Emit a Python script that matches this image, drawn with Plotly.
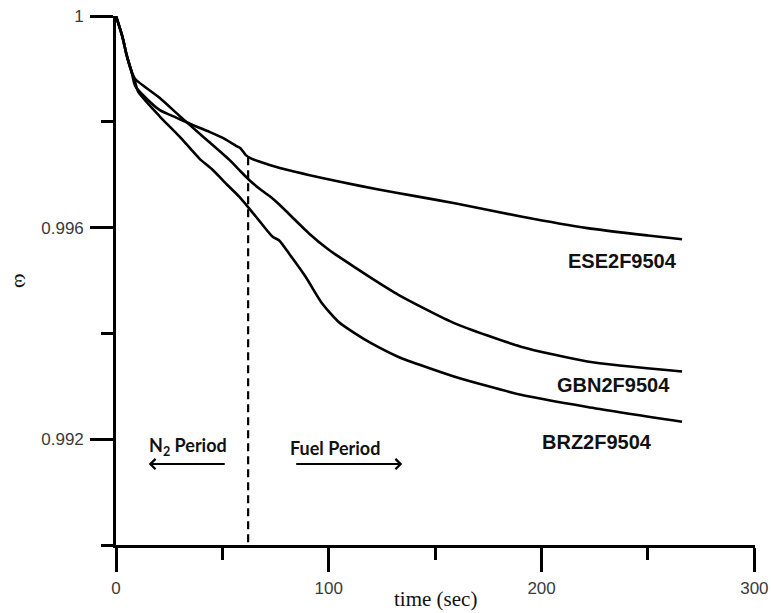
import plotly.graph_objects as go

# ---- data ----
ese_t = [0, 3, 5, 7.3, 9, 14.3, 20.6, 28.3, 36, 43.9, 50, 57.1, 58.5, 61, 63.4, 67.3, 76.6,
         90, 104.7, 123.4, 140, 159.2, 190.3, 221.5, 250, 266]
ese_v = [1.0, 0.99961, 0.99926, 0.99895, 0.99868, 0.99844, 0.99822, 0.99808, 0.99794, 0.99781,
         0.99770, 0.99753, 0.99750, 0.99737, 0.99731, 0.99725, 0.99713, 0.99700, 0.99687,
         0.99672, 0.99660, 0.99646, 0.99621, 0.99599, 0.99585, 0.99578]

gbn_t = [0, 3, 5, 7.3, 9, 20.6, 29.9, 40, 53.3, 57.9, 62.6, 67.3, 72, 76.6, 90.7, 100,
         104.7, 120.2, 132.7, 159.2, 190.3, 221.5, 266]
gbn_v = [1.0, 0.99961, 0.99926, 0.99895, 0.99881, 0.99845, 0.99811, 0.99775, 0.99728, 0.99709,
         0.99690, 0.99674, 0.99660, 0.99644, 0.99589, 0.99558, 0.99545, 0.99504, 0.99473,
         0.99419, 0.99375, 0.99347, 0.99328]

brz_t = [0, 3, 5, 7.3, 9, 10.4, 20.6, 29.9, 39.3, 45.5, 52, 58, 65.7, 73.5, 76.6, 81.3,
         89.1, 96.8, 104.5, 112.3, 120.1, 132.5, 159.2, 190.3, 221.5, 266]
brz_v = [1.0, 0.99961, 0.99926, 0.99895, 0.99875, 0.99857, 0.99810, 0.99772, 0.99730, 0.99709,
         0.99682, 0.99658, 0.99621, 0.99583, 0.99576, 0.99551, 0.99507, 0.99457, 0.99422,
         0.99400, 0.99381, 0.99356, 0.99318, 0.99284, 0.99261, 0.99233]

series_names = ["ESE2F9504", "GBN2F9504", "BRZ2F9504"]
label_t = [238, 234, 226]
label_v = [0.99537, 0.99302, 0.99195]

switch_t = 62.1
switch_top = 0.99733

x_major = [0, 100, 200, 300]
x_minor = [50, 150, 250]
y_major = [1.0, 0.996, 0.992]
y_major_text = ["1", "0.996", "0.992"]
y_minor = [0.998, 0.994, 0.990]

fig = go.Figure()
for t, v in [(ese_t, ese_v), (gbn_t, gbn_v), (brz_t, brz_v)]:
    fig.add_trace(go.Scatter(x=t, y=v, mode="lines",
                             line=dict(color="black", width=2.6, shape="spline", smoothing=0.6),
                             showlegend=False, hoverinfo="skip"))

# dashed separation line
fig.add_trace(go.Scatter(x=[switch_t, switch_t], y=[switch_top, 0.990], mode="lines",
                         line=dict(color="black", width=2.2, dash="8px,5px"),
                         showlegend=False, hoverinfo="skip"))

annotations = []
for name, t, v in zip(series_names, label_t, label_v):
    annotations.append(dict(x=t, y=v, xref="x", yref="y", text="<b>" + name + "</b>",
                            showarrow=False,
                            font=dict(family="Liberation Sans, Arial", size=20, color="#111"),
                            xanchor="center", yanchor="middle"))

# period arrows
annotations.append(dict(x=15.4, y=0.99153, ax=51.8, ay=0.99153, xref="x", yref="y",
                        axref="x", ayref="y", text="", showarrow=True, arrowhead=4,
                        arrowsize=1, arrowwidth=2, arrowcolor="black"))
annotations.append(dict(x=134.5, y=0.99153, ax=84, ay=0.99153, xref="x", yref="y",
                        axref="x", ayref="y", text="", showarrow=True, arrowhead=4,
                        arrowsize=1, arrowwidth=2, arrowcolor="black"))
annotations.append(dict(x=33.8, y=0.99187, xref="x", yref="y",
                        text="<b>N<sub>2</sub> Period</b>", showarrow=False,
                        font=dict(family="Lato", size=18, color="#111")))
annotations.append(dict(x=103, y=0.99183, xref="x", yref="y",
                        text="<b>Fuel Period</b>", showarrow=False,
                        font=dict(family="Lato", size=18, color="#111")))

# axis titles
annotations.append(dict(x=150, y=0, xref="x", yref="paper", yshift=-54,
                        text="time (sec)", showarrow=False, xanchor="center", yanchor="middle",
                        font=dict(family="Liberation Serif, Times New Roman", size=21, color="#111")))
annotations.append(dict(x=0, y=0.995, xref="paper", yref="y", xshift=-94,
                        text="ω", showarrow=False, textangle=90,
                        xanchor="center", yanchor="middle",
                        font=dict(family="Liberation Serif", size=22, color="#111")))

tickfont = dict(family="Liberation Sans, Arial", size=17, color="#3a3a3a")

fig.update_layout(
    width=771, height=613,
    margin=dict(l=116, r=16, t=16, b=68, autoexpand=False),
    paper_bgcolor="white", plot_bgcolor="white",
    annotations=annotations,
    xaxis=dict(range=[0, 300.3], showline=True, linecolor="black", linewidth=2.6,
               ticks="outside", ticklen=24, tickwidth=2.6, tickcolor="black",
               tickmode="array", tickvals=x_major, ticktext=[str(v) for v in x_major],
               ticklabeloverflow="allow", ticklabelstandoff=2, automargin=False,
               minor=dict(ticks="outside", ticklen=12, tickwidth=2.6, tickcolor="black",
                          tickmode="array", tickvals=x_minor, showgrid=False),
               showgrid=False, zeroline=False, tickfont=tickfont),
    yaxis=dict(range=[0.990, 1.0], showline=True, linecolor="black", linewidth=2.6,
               ticks="outside", ticklen=23, tickwidth=2.6, tickcolor="black",
               tickmode="array", tickvals=y_major, ticktext=y_major_text,
               ticklabelstandoff=3, automargin=False,
               minor=dict(ticks="outside", ticklen=12, tickwidth=2.6, tickcolor="black",
                          tickmode="array", tickvals=y_minor, showgrid=False),
               showgrid=False, zeroline=False, tickfont=tickfont),
)

fig.write_html("out.html")
